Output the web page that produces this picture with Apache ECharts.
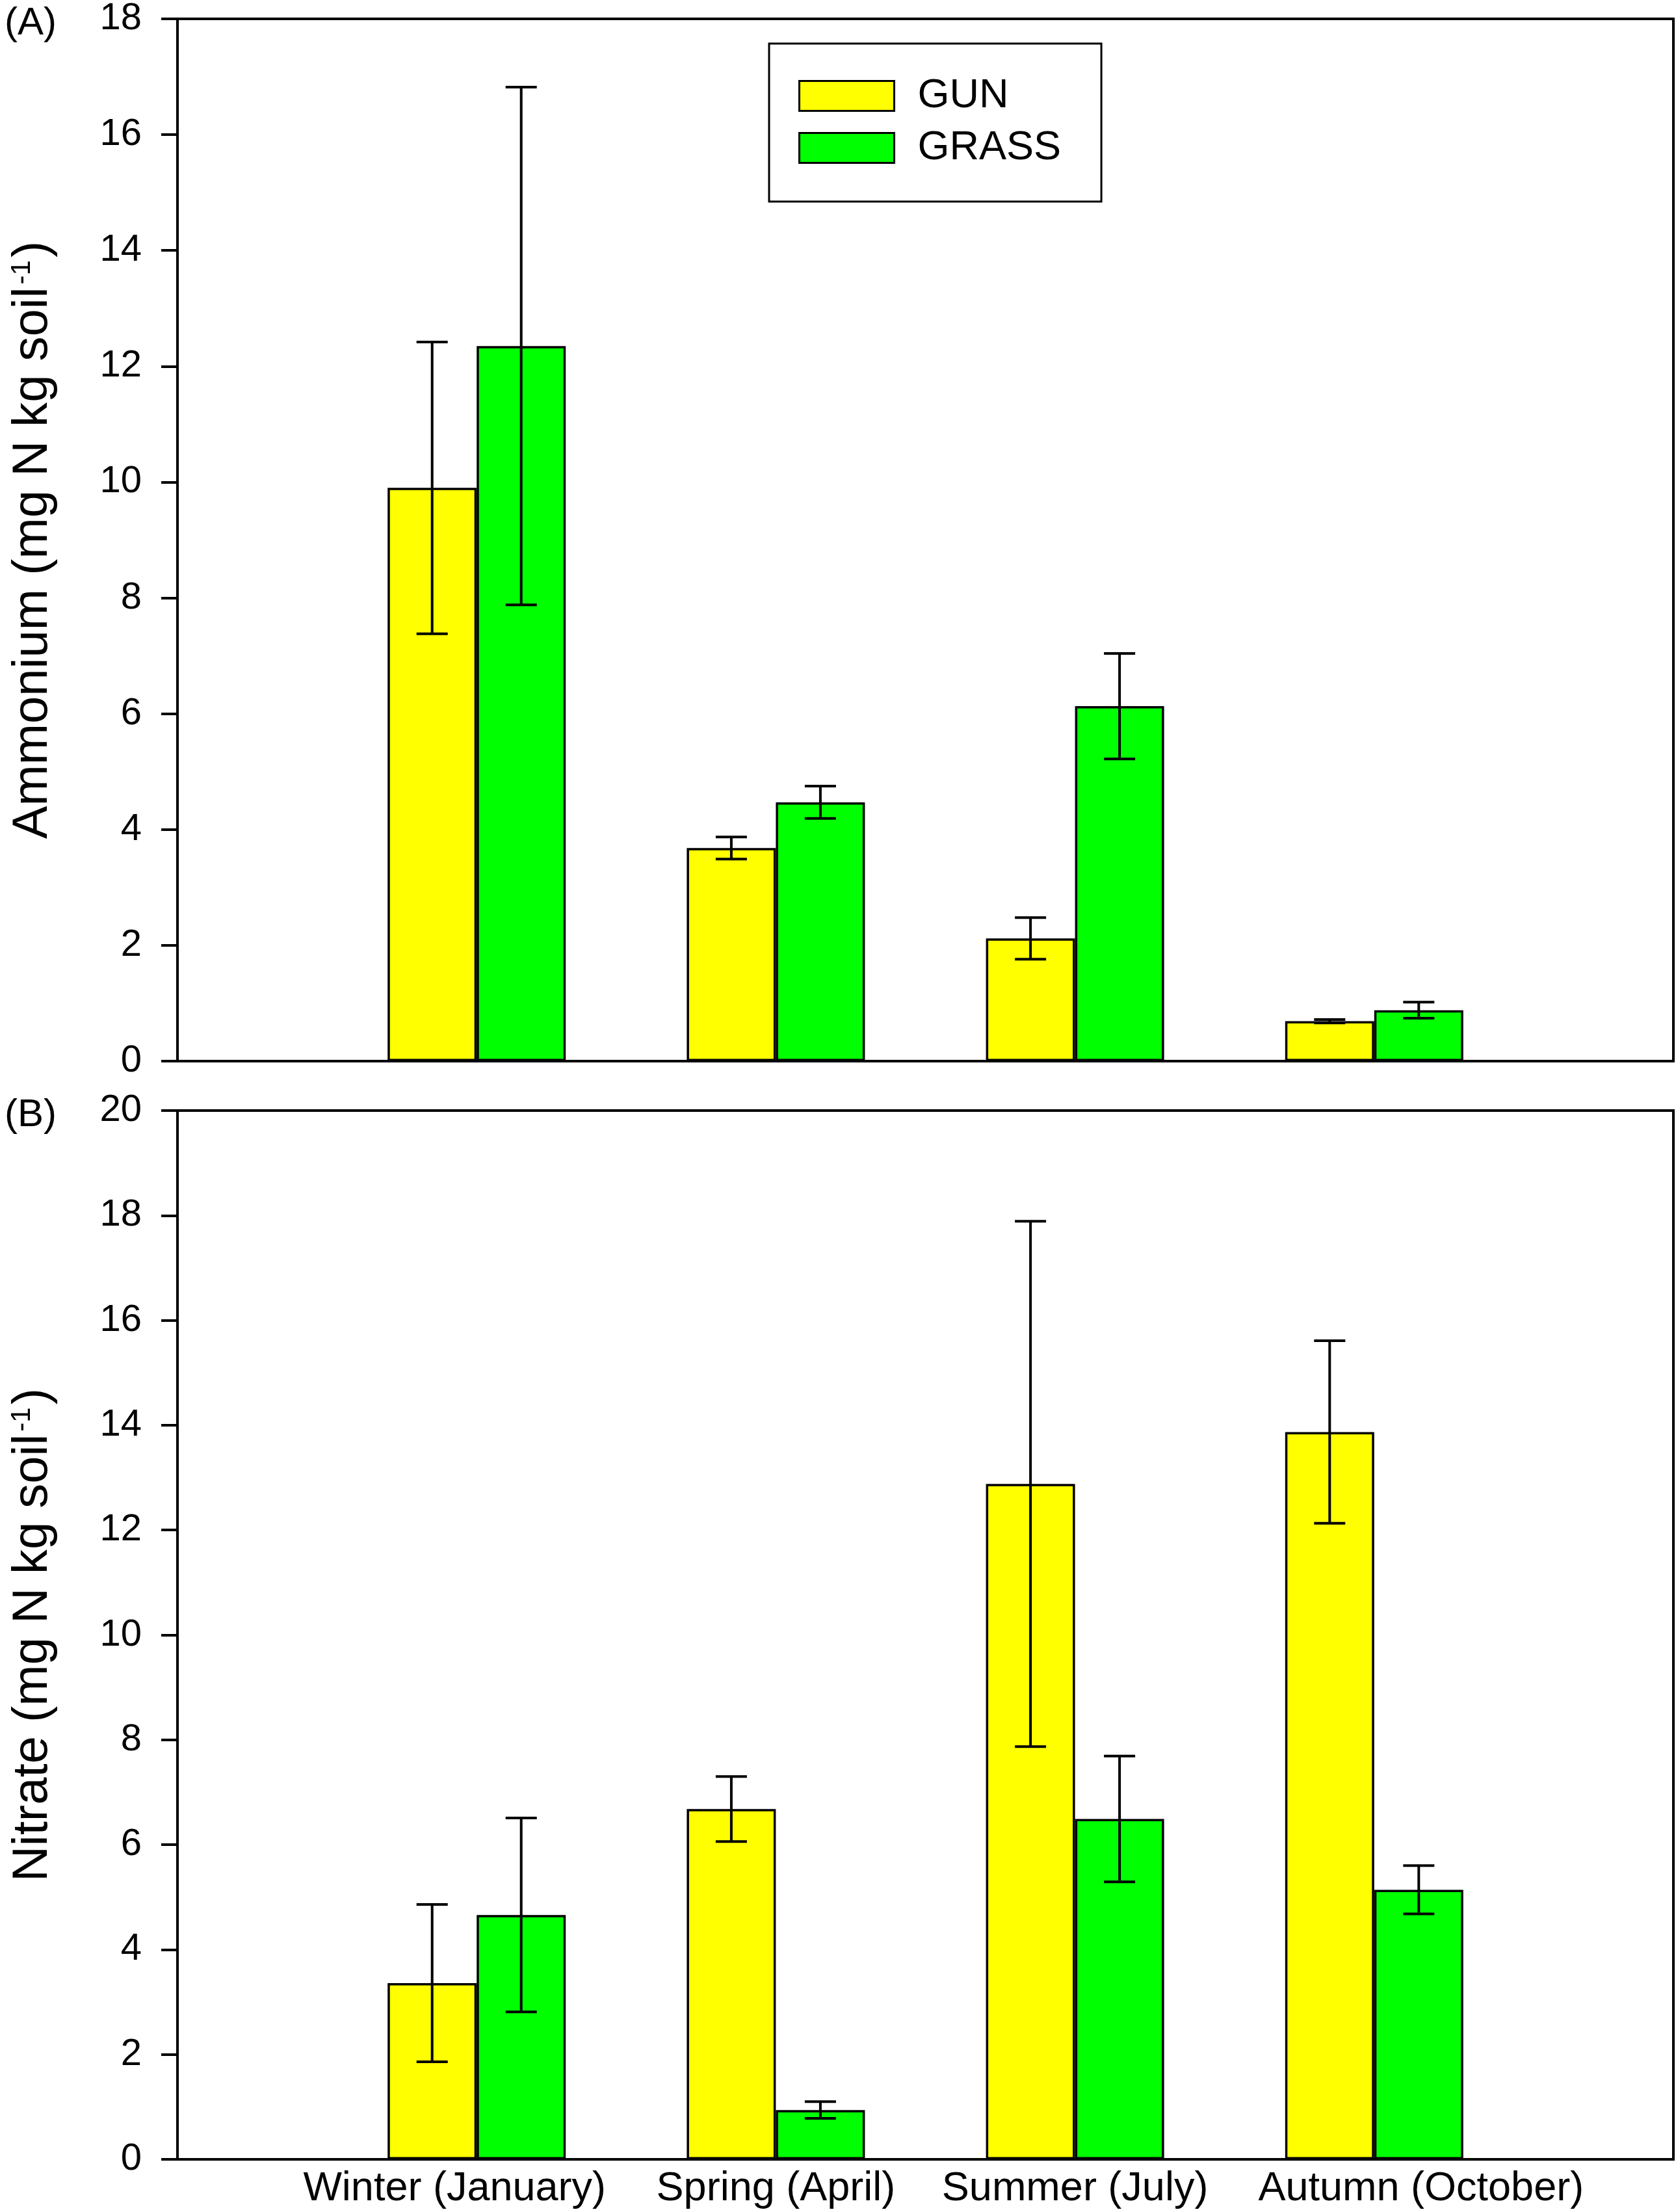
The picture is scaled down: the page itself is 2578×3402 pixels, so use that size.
<!DOCTYPE html>
<html>
<head>
<meta charset="utf-8">
<script src="https://cdn.jsdelivr.net/npm/echarts@6/dist/echarts.min.js"></script>
<style>
html,body{margin:0;padding:0;background:#fff;}
#chart{width:2578px;height:3402px;}
</style>
</head>
<body>
<div id="chart"></div>
<script>
// ---- data ----
const categories = ['Winter (January)', 'Spring (April)', 'Summer (July)', 'Autumn (October)'];
const seriesNames = ['GUN', 'GRASS'];
const gunAmmonium = [9.9, 3.68, 2.12, 0.69];
const gunAmmoniumErr = [2.52, 0.19, 0.36, 0.03];
const grassAmmonium = [12.35, 4.47, 6.13, 0.88];
const grassAmmoniumErr = [4.47, 0.28, 0.91, 0.14];
const gunNitrate = [3.36, 6.68, 12.88, 13.87];
const gunNitrateErr = [1.5, 0.62, 5.01, 1.74];
const grassNitrate = [4.66, 0.94, 6.49, 5.14];
const grassNitrateErr = [1.85, 0.16, 1.2, 0.46];
const ammoniumTicks = {min: 0, max: 18, interval: 2};
const nitrateTicks = {min: 0, max: 20, interval: 2};

// ---- styling ----
const FONT = 'Liberation Sans, Arial, Helvetica, sans-serif';
const YELLOW = '#FFFF00';
const GREEN = '#00FF00';
const BAR_W = 137;
const LINE_W = 4;
const LABEL_FS = 63;
// horizontal nudges of the category labels (px) as placed in the original figure
const labelShift = [-34, 0, 0, 72];

const axisCats = [''].concat(categories, ['']);
const pad = arr => [null].concat(arr, [null]);
const errData = (vals, errs) => vals.map((v, i) => [i + 1, v, errs[i]]);

function errRender(offset) {
  return function (params, api) {
    const x = api.value(0), v = api.value(1), e = api.value(2);
    const top = api.coord([x, v + e]);
    const bot = api.coord([x, v - e]);
    const cx = top[0] + offset;
    const hw = 24;
    const st = {stroke: '#000', lineWidth: LINE_W};
    return {
      type: 'group',
      children: [
        {type: 'line', shape: {x1: cx, y1: top[1], x2: cx, y2: bot[1]}, style: st},
        {type: 'line', shape: {x1: cx - hw, y1: top[1], x2: cx + hw, y2: top[1]}, style: st},
        {type: 'line', shape: {x1: cx - hw, y1: bot[1], x2: cx + hw, y2: bot[1]}, style: st}
      ]
    };
  };
}

function yAxisDef(gridIndex, ticks, label) {
  return {
    type: 'value', gridIndex: gridIndex,
    min: ticks.min, max: ticks.max, interval: ticks.interval,
    axisLine: {show: true, lineStyle: {color: '#000', width: LINE_W}},
    axisTick: {show: true, inside: false, length: 25, lineStyle: {color: '#000', width: LINE_W}},
    axisLabel: {color: '#000', fontSize: 58, fontFamily: FONT, margin: 55},
    splitLine: {show: false},
    name: '{a|' + label + ' (mg N kg soil}{s|-1}{a|)}',
    nameLocation: 'middle',
    nameGap: 184,
    nameTextStyle: {
      color: '#000', fontFamily: FONT,
      rich: {
        a: {fontSize: 76, fontFamily: FONT, color: '#000'},
        s: {fontSize: 42, fontFamily: FONT, color: '#000', verticalAlign: 'top', padding: [0, 4, 0, 4]}
      }
    }
  };
}

const labelRich = {};
labelShift.forEach((s, i) => {
  labelRich['c' + i] = {
    fontSize: LABEL_FS, fontFamily: FONT, color: '#000',
    padding: s >= 0 ? [0, 0, 0, 2 * s] : [0, -2 * s, 0, 0]
  };
});

function xAxisDef(gridIndex, showLabels) {
  return {
    type: 'category', gridIndex: gridIndex, data: axisCats, boundaryGap: false,
    axisLine: {show: true, lineStyle: {color: '#000', width: LINE_W}},
    axisTick: {show: false},
    splitLine: {show: false},
    axisLabel: {
      show: showLabels, interval: 0, color: '#000', fontSize: LABEL_FS, fontFamily: FONT, margin: 14,
      formatter: function (val, idx) {
        if (!val) return '';
        return '{c' + (idx - 1) + '|' + val + '}';
      },
      rich: labelRich
    }
  };
}

function barSeries(name, data, color, xi, yi) {
  return {
    type: 'bar', name: name, data: pad(data), xAxisIndex: xi, yAxisIndex: yi,
    barWidth: BAR_W, barGap: '0%',
    itemStyle: {color: color, borderColor: '#000', borderWidth: 3.5},
    emphasis: {disabled: true}, z: 2
  };
}

function errSeries(vals, errs, offset, xi, yi) {
  return {
    type: 'custom', name: 'err', data: errData(vals, errs), xAxisIndex: xi, yAxisIndex: yi,
    renderItem: errRender(offset), z: 5, silent: true
  };
}

const chart = echarts.init(document.getElementById('chart'));
chart.setOption({
  animation: false,
  backgroundColor: '#fff',
  textStyle: {fontFamily: FONT},
  grid: [
    {left: 273, right: 4, top: 22, height: 1610, show: true, borderColor: '#000', borderWidth: LINE_W, backgroundColor: 'transparent'},
    {left: 273, right: 4, top: 1708, height: 1613, show: true, borderColor: '#000', borderWidth: LINE_W, backgroundColor: 'transparent'}
  ],
  legend: {
    data: seriesNames,
    orient: 'vertical',
    left: 1183, top: 67,
    padding: [49, 62, 51, 45],
    itemWidth: 146, itemHeight: 46, itemGap: 17,
    borderColor: '#000', borderWidth: 3, backgroundColor: '#fff',
    icon: 'rect',
    itemStyle: {borderColor: '#000', borderWidth: 3},
    textStyle: {color: '#000', fontSize: 63, fontFamily: FONT, padding: [0, 0, 0, 31]},
    selectedMode: false
  },
  graphic: [
    {type: 'text', left: 7, top: 6, style: {text: '(A)', fontSize: 60, fontFamily: FONT, fill: '#000'}},
    {type: 'text', left: 7, top: 1685, style: {text: '(B)', fontSize: 60, fontFamily: FONT, fill: '#000'}}
  ],
  xAxis: [xAxisDef(0, false), xAxisDef(1, true)],
  yAxis: [yAxisDef(0, ammoniumTicks, 'Ammonium'), yAxisDef(1, nitrateTicks, 'Nitrate')],
  series: [
    barSeries(seriesNames[0], gunAmmonium, YELLOW, 0, 0),
    barSeries(seriesNames[1], grassAmmonium, GREEN, 0, 0),
    errSeries(gunAmmonium, gunAmmoniumErr, -BAR_W / 2, 0, 0),
    errSeries(grassAmmonium, grassAmmoniumErr, BAR_W / 2, 0, 0),
    barSeries(seriesNames[0], gunNitrate, YELLOW, 1, 1),
    barSeries(seriesNames[1], grassNitrate, GREEN, 1, 1),
    errSeries(gunNitrate, gunNitrateErr, -BAR_W / 2, 1, 1),
    errSeries(grassNitrate, grassNitrateErr, BAR_W / 2, 1, 1)
  ]
});
</script>
</body>
</html>
